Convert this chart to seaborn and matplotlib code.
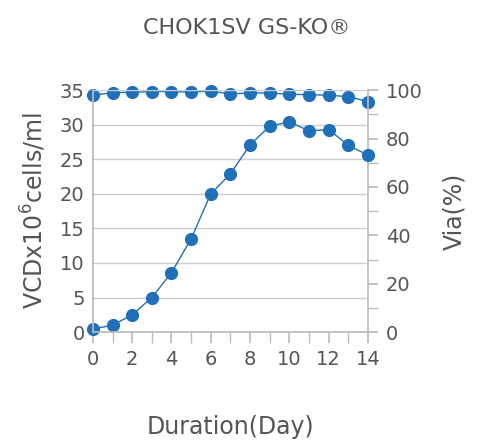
"""CHOK1SV GS-KO growth curve: viable cell density and viability over 14 days."""
import matplotlib

matplotlib.use("Agg")
import matplotlib.pyplot as plt
import pandas as pd
import seaborn as sns
from matplotlib.ticker import MultipleLocator

days = list(range(15))
vcd = [0.45, 1.0, 2.5, 5.0, 8.6, 13.5, 20.0, 22.9, 27.1, 29.8, 30.4, 29.1, 29.3, 27.0, 25.6]
viability = [97.8, 99.0, 99.1, 99.4, 99.4, 99.2, 99.6, 98.4, 98.9, 98.8, 98.3, 98.1, 97.9, 97.3, 95.3]

df = pd.DataFrame({"day": days, "vcd": vcd, "via": viability})

BLUE = "#1f70b8"
TXT = "#555555"
GRID = "#cccccc"
SPINE = "#bbbbbb"

sns.set_theme(style="white")
plt.rcParams["font.family"] = ["DejaVu Sans"]

fig = plt.figure(figsize=(4.94, 4.44), dpi=100)
ax = fig.add_axes([0.188, 0.252, 0.557, 0.545])
ax2 = ax.twinx()

line_kw = dict(color=BLUE, marker="o", markersize=9.5, linewidth=1,
               markeredgewidth=0, clip_on=False)
sns.lineplot(data=df, x="day", y="vcd", ax=ax, **line_kw)
sns.lineplot(data=df, x="day", y="via", ax=ax2, **line_kw)

ax.set_xlim(0, 14)
ax.set_ylim(0, 35)
ax2.set_ylim(0, 100)
ax.xaxis.set_major_locator(MultipleLocator(2))
ax.xaxis.set_minor_locator(MultipleLocator(1))
ax.yaxis.set_major_locator(MultipleLocator(5))
ax2.yaxis.set_major_locator(MultipleLocator(20))
ax2.yaxis.set_minor_locator(MultipleLocator(10))

ax.grid(axis="y", color=GRID, linewidth=1)
ax.set_axisbelow(True)
ax.set_zorder(ax2.get_zorder() + 1)
ax.patch.set_visible(False)

for a in (ax, ax2):
    for s in a.spines.values():
        s.set_visible(False)
for a, side in ((ax, "bottom"), (ax, "left"), (ax2, "right")):
    a.spines[side].set_visible(True)
    a.spines[side].set_color(SPINE)

ax.tick_params(axis="x", which="both", direction="out", length=8, color=SPINE,
               labelsize=14, labelcolor=TXT, pad=5, bottom=True)
ax.tick_params(axis="y", length=0, labelsize=14, labelcolor=TXT, pad=6)
ax2.tick_params(axis="y", which="both", direction="out", length=7, color=SPINE,
                labelsize=14, labelcolor=TXT, pad=6, right=True)

ax.set_xlabel("Duration(Day)", fontsize=17, color=TXT, labelpad=33)
ax.set_ylabel("VCDx10$^{6}$cells/ml", fontsize=17, color=TXT, labelpad=8)
ax2.set_ylabel("Via(%)", fontsize=17, color=TXT, labelpad=14)
fig.suptitle("CHOK1SV GS-KO®", fontsize=16, color=TXT, y=0.96)

fig.savefig("out.png", dpi=100)
plt.close(fig)
